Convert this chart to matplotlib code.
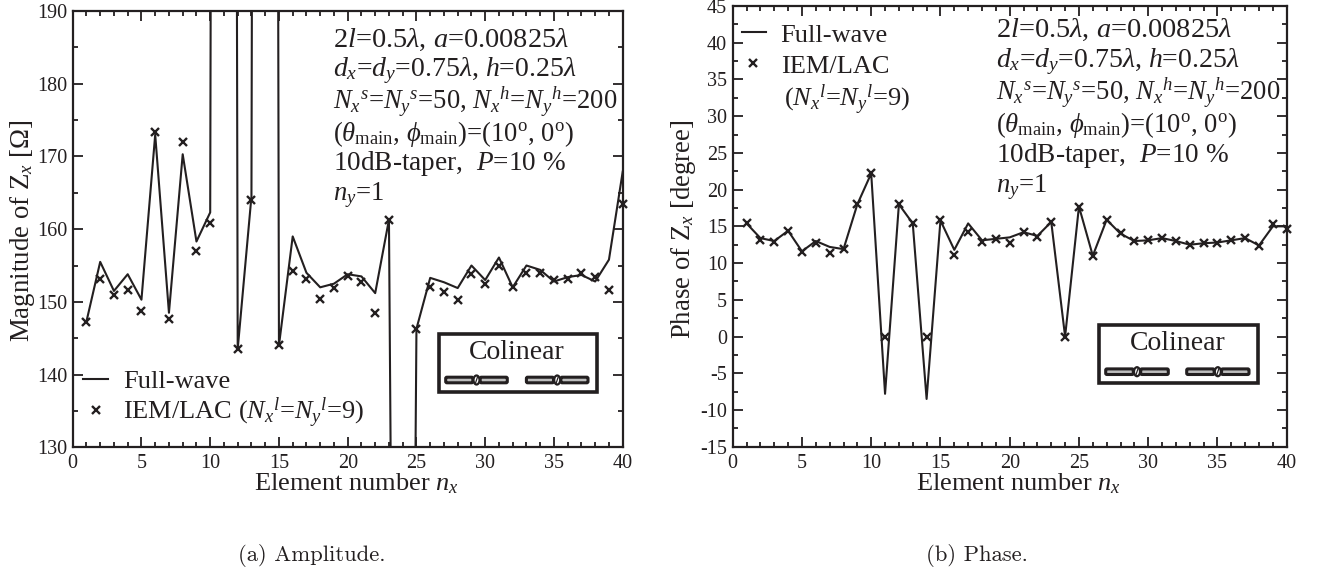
import numpy as np
import matplotlib
matplotlib.use('Agg')
import matplotlib.pyplot as plt
from matplotlib.lines import Line2D
from matplotlib.patches import Rectangle, FancyBboxPatch, Ellipse
from matplotlib.ticker import MultipleLocator
from matplotlib.transforms import IdentityTransform

# 数据
element = list(range(1, 41))
amp_full = [147.3, 155.5, 151.5, 153.8, 150.3, 173.0, 148.5, 170.3, 158.3, 162.3,
            1000.0, 143.5, 164.5, 1000.0, 144.0, 159.0, 154.0, 152.0, 152.5, 153.8,
            153.5, 151.2, 161.3, -100.0, 146.3, 153.3, 152.7, 151.9, 155.0, 153.0,
            156.1, 152.0, 155.0, 154.4, 152.8, 153.4, 153.7, 152.8, 155.8, 167.9]
amp_iem = [147.2, 153.2, 150.9, 151.6, 148.7, 173.4, 147.7, 172.0, 157.0, 160.8,
           np.nan, 143.5, 164.0, np.nan, 144.0, 154.2, 153.1, 150.4, 151.9, 153.5,
           152.8, 148.5, 161.3, np.nan, 146.3, 152.0, 151.4, 150.3, 153.8, 152.4,
           155.0, 152.1, 154.0, 154.0, 153.0, 153.1, 154.0, 153.4, 151.7, 163.4]
phase_full = [15.4, 13.4, 13.0, 14.4, 11.6, 13.0, 12.2, 11.9, 18.0, 22.2,
              -7.8, 18.0, 15.4, -8.5, 15.8, 11.8, 15.4, 13.1, 13.3, 13.5,
              14.2, 13.7, 15.6, 0.0, 17.7, 11.0, 15.9, 14.0, 13.0, 13.1,
              13.4, 13.0, 12.5, 12.7, 12.8, 13.1, 13.4, 12.4, 15.0, 15.0]
phase_iem = [15.4, 13.2, 12.9, 14.4, 11.5, 12.8, 11.4, 11.9, 18.0, 22.2,
             0.0, 18.0, 15.4, 0.0, 15.8, 11.1, 14.2, 12.9, 13.3, 12.8,
             14.2, 13.6, 15.6, 0.0, 17.7, 11.0, 15.9, 14.1, 13.0, 13.2,
             13.4, 13.0, 12.5, 12.7, 12.8, 13.1, 13.4, 12.3, 15.3, 14.7]
x_ticks = [0, 5, 10, 15, 20, 25, 30, 35, 40]
amp_ticks = [130, 140, 150, 160, 170, 180, 190]
phase_ticks = [-15, -10, -5, 0, 5, 10, 15, 20, 25, 30, 35, 40, 45]
info_lines = [r'$2l$=0.5$\lambda$, $a$=0.00825$\lambda$',
              r'$d_x$=$d_y$=0.75$\lambda$, $h$=0.25$\lambda$',
              r'$N_x{}^s$=$N_y{}^s$=50, $N_x{}^h$=$N_y{}^h$=200',
              r'($\theta_{\mathrm{main}}$, $\phi_{\mathrm{main}}$)=(10$^{\mathrm{o}}$, 0$^{\mathrm{o}}$)',
              r'10dB-taper,  $P$=10 %',
              r'$n_y$=1']
info_sizes = [20.4, 20.0, 19.2, 19.2, 19.6, 19.2]

W, H = 1321, 573
INK = '#231f20'
LW = 1.5
X_STYLE = dict(ls='none', marker='x', ms=5.5, mew=1.7, color=INK)
plt.rcParams['font.family'] = ['Liberation Serif', 'DejaVu Serif']
plt.rcParams['mathtext.fontset'] = 'custom'
plt.rcParams['mathtext.rm'] = 'Liberation Serif'
plt.rcParams['mathtext.it'] = 'Liberation Serif:italic'
plt.rcParams['mathtext.bf'] = 'Liberation Serif:bold'
plt.rcParams['mathtext.fallback'] = 'stix'
plt.rcParams['axes.unicode_minus'] = False
plt.rcParams['text.color'] = INK

fig = plt.figure(figsize=(W / 100, H / 100), dpi=100)


def fx(x):
    return x / W


def fy(y):
    return 1 - y / H


def make_axes(x0, x1, y0, y1, ylim, yticks, yminor):
    ax = fig.add_axes([fx(x0), fy(y1), fx(x1 - x0), (y1 - y0) / H])
    ax.set_xlim(0, 40)
    ax.set_ylim(*ylim)
    ax.set_xticks(x_ticks)
    ax.set_yticks(yticks)
    ax.xaxis.set_minor_locator(MultipleLocator(1))
    ax.yaxis.set_minor_locator(MultipleLocator(yminor))
    ax.tick_params(which='major', direction='in', top=True, right=True, length=7, width=1.3,
                   labelsize=14.5, color=INK, labelcolor=INK)
    ax.tick_params(which='minor', direction='in', top=True, right=True, length=3.5, width=1.3, color=INK)
    ax.tick_params(axis='x', pad=5)
    ax.tick_params(axis='y', pad=4)
    for s in ax.spines.values():
        s.set_linewidth(1.6)
        s.set_color(INK)
    return ax


def put_text(x, y, s, size=19, **kw):
    fig.text(fx(x), fy(y), s, fontsize=size, va='baseline', color=INK, **kw)


def colinear_box(x0, x1, y0, y1, text_x, text_y, dipoles, dip_y):
    pix = IdentityTransform()
    fig.add_artist(Rectangle((fx(x0), fy(y1)), fx(x1 - x0), (y1 - y0) / H, transform=fig.transFigure,
                             facecolor='white', edgecolor=INK, linewidth=2.6, zorder=5))
    fig.text(fx(text_x), fy(text_y), 'Colinear', fontsize=20, ha='center', va='baseline', color=INK, zorder=6)
    for a, b in dipoles:
        mid = (a + b) / 2
        # 两个振子臂
        for p, q in [(a, mid - 3), (mid + 3, b)]:
            fig.add_artist(FancyBboxPatch((p + 2, H - dip_y - 1.5), q - p - 4, 3, boxstyle='round,pad=1.3',
                                          transform=pix, facecolor='#bdbdbd', edgecolor=INK,
                                          linewidth=2.2, zorder=6))
        fig.add_artist(Ellipse((mid, H - dip_y), 6, 9, transform=pix, facecolor='white',
                               edgecolor=INK, linewidth=1.6, zorder=7))
        fig.add_artist(Line2D([mid - 1, mid + 1], [H - dip_y - 3, H - dip_y + 3], transform=pix,
                              color=INK, lw=0.9, zorder=8))


# (a) 幅度
ax1 = make_axes(72.7, 622.7, 11, 447.3, (130, 190), amp_ticks, 5)
ax1.plot(element, amp_full, color=INK, lw=LW)
ax1.plot(element, amp_iem, clip_on=False, zorder=4, **X_STYLE)

# (b) 相位
ax2 = make_axes(732.7, 1286.7, 6, 446.7, (-15, 45), phase_ticks, 2.5)
ax2.plot(element, phase_full, color=INK, lw=LW)
ax2.plot(element, phase_iem, clip_on=False, zorder=4, **X_STYLE)

# 轴标签
fig.text(fx(23), fy(231), r'Magnitude of Z$_x$ [$\Omega$]', fontsize=19.4, rotation=90, ha='center', va='center', color=INK)
fig.text(fx(684), fy(229), r'Phase of Z$_x$ [degree]', fontsize=19.3, rotation=90, ha='center', va='center', color=INK)
put_text(356, 490, r'Element number $n_x$', size=19, ha='center')
put_text(1018, 490, r'Element number $n_x$', size=19, ha='center')

# 参数说明
for s, size, y in zip(info_lines, info_sizes, [47, 76, 109, 141, 170, 200]):
    put_text(333, y, s, size=size)
for s, size, y in zip(info_lines, info_sizes, [37, 67, 100, 132, 162, 192]):
    put_text(996, y, s, size=size)

# 图例
fig.add_artist(Line2D([fx(83), fx(108)], [fy(378.7)] * 2, color=INK, lw=LW))
fig.add_artist(Line2D([fx(96)], [fy(410)], **X_STYLE))
put_text(123, 388, 'Full-wave')
put_text(123, 419, r'IEM/LAC ($N_x{}^l$=$N_y{}^l$=9)')
fig.add_artist(Line2D([fx(741.7), fx(765.7)], [fy(31.7)] * 2, color=INK, lw=LW))
fig.add_artist(Line2D([fx(753)], [fy(63)], **X_STYLE))
put_text(780.7, 41.7, 'Full-wave')
put_text(780.7, 72.7, 'IEM/LAC')
put_text(784, 106, r'($N_x{}^l$=$N_y{}^l$=9)')

# 共线阵示意
colinear_box(439, 596.7, 334.3, 391.7, 517, 359, [(445, 508), (525.7, 588.7)], 380)
colinear_box(1099, 1258, 325, 382.7, 1178, 350, [(1105, 1169), (1186, 1249.7)], 371.7)

# 子图标题
fig.text(fx(312), fy(561), '(a) Amplitude.', family='cmr10', fontsize=16.3, ha='center', va='baseline', color=INK)
fig.text(fx(977), fy(561), '(b) Phase.', family='cmr10', fontsize=16.3, ha='center', va='baseline', color=INK)

fig.savefig('out.png', dpi=100)
